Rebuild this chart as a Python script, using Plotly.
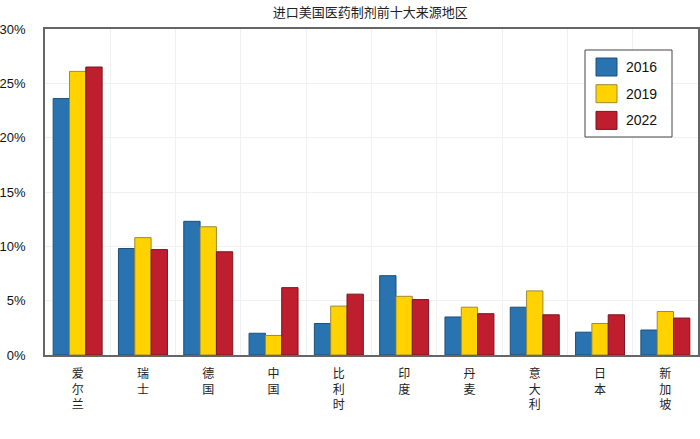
import plotly.graph_objects as go

categories = ["爱尔兰", "瑞士", "德国", "中国", "比利时", "印度", "丹麦", "意大利", "日本", "新加坡"]
years = ["2016", "2019", "2022"]
v2016 = [23.6, 9.8, 12.3, 2.0, 2.9, 7.3, 3.5, 4.4, 2.1, 2.3]
v2019 = [26.1, 10.8, 11.8, 1.8, 4.5, 5.4, 4.4, 5.9, 2.9, 4.0]
v2022 = [26.5, 9.7, 9.5, 6.2, 5.6, 5.1, 3.8, 3.7, 3.7, 3.4]
colors = ["#2873B0", "#FFD200", "#BE1E2D"]
outlines = ["#1D4F7A", "#9C8A3A", "#7A1520"]

labels = ["<br>".join(list(c)) for c in categories]

fig = go.Figure()
for y, vals, c, o in zip(years, [v2016, v2019, v2022], colors, outlines):
    fig.add_trace(go.Bar(name=y, x=labels, y=vals, showlegend=False,
                         marker=dict(color=c, line=dict(color=o, width=1))))

# custom legend (paper coordinates)
L, T, W, H = 45, 29, 653, 326
def px(x): return (x - L) / W
def py(y): return (T + H - y) / H

shapes = [dict(type="rect", xref="paper", yref="paper", x0=px(585), x1=px(672), y0=py(137), y1=py(50),
               line=dict(color="#444", width=1), fillcolor="white", layer="above")]
annotations = []
for i, (y, c, o) in enumerate(zip(years, colors, outlines)):
    cy = 67 + i * 26.7
    shapes.append(dict(type="rect", xref="paper", yref="paper", x0=px(596), x1=px(617),
                       y0=py(cy + 9), y1=py(cy - 9), fillcolor=c, line=dict(color=o, width=1), layer="above"))
    annotations.append(dict(xref="paper", yref="paper", x=px(624), y=py(cy), text=y, showarrow=False,
                            xanchor="left", yanchor="middle", font=dict(size=14, color="#111")))

fig.update_layout(
    width=700, height=439,
    margin=dict(l=45, r=2, t=29, b=84, autoexpand=False),
    paper_bgcolor="white", plot_bgcolor="white",
    barmode="group", bargap=0.25, bargroupgap=0,
    font=dict(family="Liberation Sans, Arial, Noto Sans CJK SC", size=13, color="#111"),
    title=dict(text="进口美国医药制剂前十大来源地区", x=0.529, xanchor="center", y=1 - 12 / 439, yref="container",
               yanchor="middle", font=dict(size=13, family="Noto Sans CJK SC", color="#222")),
    shapes=shapes, annotations=annotations,
)
fig.update_xaxes(showline=True, linecolor="#666", linewidth=1.5, mirror=True, showgrid=True,
                 gridcolor="#F0F0F0", tickson="boundaries", ticks="", automargin=False,
                 ticklabelstandoff=7,
                 tickfont=dict(family="Noto Sans CJK SC", size=12, color="#222"))
fig.update_yaxes(range=[0, 30], dtick=5, ticksuffix="%", showline=True, linecolor="#666", linewidth=1.5,
                 mirror=True, showgrid=True, gridcolor="#F0F0F0", ticks="", zeroline=False,
                 automargin=False, ticklabelstandoff=15,
                 tickfont=dict(size=13, color="#111"))

fig.write_html("out.html", config={"displayModeBar": False},
               post_script="document.body.style.margin='0px';")
